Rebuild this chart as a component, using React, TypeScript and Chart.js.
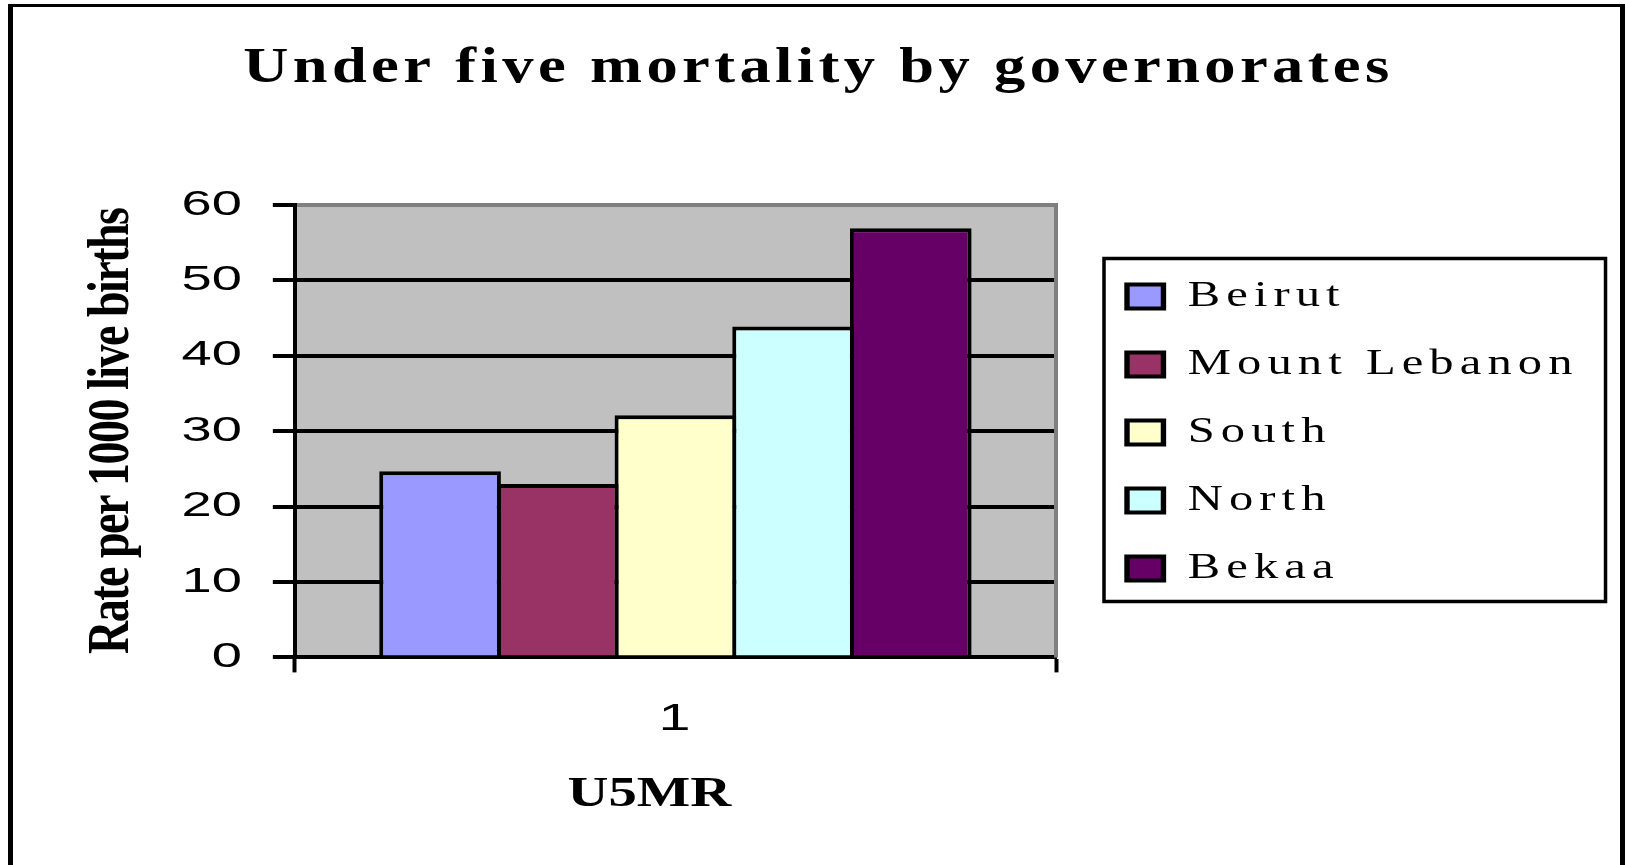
import React, { useEffect, useRef } from 'react';
import { Chart, registerables } from 'chart.js';

Chart.register(...registerables);

// ---- data ----
const categories = ['1'];
const seriesNames = ['Beirut', 'Mount Lebanon', 'South', 'North', 'Bekaa'];
const seriesValues = [24.7, 23.0, 32.1, 43.9, 56.9];
const seriesColors = ['#9999FF', '#993366', '#FFFFCC', '#CCFFFF', '#660066'];
const yTickValues = [0, 10, 20, 30, 40, 50, 60];
const chartTitle = 'Under five mortality by governorates';
const yAxisTitle = 'Rate per 1000 live births';
const xAxisTitle = 'U5MR';

const SERIF = '"Liberation Serif", "Times New Roman", serif';
const SANS = '"Liberation Sans", Arial, sans-serif';

// ---- layout constants ----
const Y_TITLE_SIZE = 46;
const Y_TITLE_PAD_TOP = 23;
const Y_TICK_LEN = 22;
const Y_TICK_PAD = 31;
const LEGEND_BOX_W = 27;
const LEGEND_SX = 1.35;
const LEGEND_GAP = 71;
const LEGEND_SPACING = '4.5px';

// wrap a Chart.js element method with a horizontal stretch and letter spacing
function wrap(obj: any, method: string, getOrigin: (o: any) => [number, number], sx: number, spacing: string) {
  if (!obj || typeof obj[method] !== 'function') return;
  const orig = obj[method];
  obj[method] = function (...args: any[]) {
    const ctx = this.ctx;
    const [from, to] = getOrigin(this);
    ctx.save();
    ctx.letterSpacing = spacing;
    ctx.translate(to, 0);
    ctx.scale(sx, 1);
    ctx.translate(-from, 0);
    try {
      return orig.apply(this, args);
    } finally {
      ctx.restore();
    }
  };
}

const framePlugin = {
  id: 'frame',
  beforeDraw(chart: any) {
    const { ctx, chartArea: a } = chart;
    ctx.save();
    ctx.fillStyle = '#ffffff';
    ctx.fillRect(0, 0, chart.width, chart.height);
    ctx.fillStyle = '#000000';
    ctx.fillRect(8, 4, 5, chart.height);
    ctx.fillRect(8, 4, 1617, 3);
    ctx.fillRect(1620, 4, 5, chart.height);
    ctx.fillStyle = '#C0C0C0';
    ctx.fillRect(a.left, a.top, a.right - a.left, a.bottom - a.top);
    ctx.restore();
  },
  beforeDatasetsDraw(chart: any) {
    const { ctx, chartArea: a } = chart;
    ctx.save();
    ctx.strokeStyle = '#808080';
    ctx.lineWidth = 4;
    ctx.beginPath();
    ctx.moveTo(a.right, a.top - 2);
    ctx.lineTo(a.right, a.bottom);
    ctx.stroke();
    ctx.restore();
  },
  afterDraw(chart: any) {
    const lg = chart.legend;
    const hb = lg && lg.legendHitBoxes;
    if (!hb || !hb.length) return;
    const { ctx } = chart;
    const first = hb[0];
    const last = hb[hb.length - 1];
    const x0 = chart.chartArea.right + LEGEND_GAP;
    const maxW = Math.max(...hb.map((h: any) => h.width));
    const l = x0 - 23;
    const t = first.top - 20;
    const r = x0 + maxW * LEGEND_SX + 27;
    const b = last.top + last.height + 15;
    ctx.save();
    ctx.strokeStyle = '#000000';
    ctx.lineWidth = 3.5;
    ctx.strokeRect(l, t, r - l, b - t);
    ctx.restore();
  },
};

export default function App() {
  const canvasRef = useRef<HTMLCanvasElement | null>(null);

  useEffect(() => {
    if (!canvasRef.current) return;
    const chart: any = new Chart(canvasRef.current, {
      type: 'bar',
      data: {
        labels: categories,
        datasets: seriesNames.map((name, i) => ({
          label: name,
          data: [seriesValues[i]],
          backgroundColor: seriesColors[i],
          borderColor: '#000000',
          borderWidth: 4,
          categoryPercentage: 0.773,
          barPercentage: 1.034,
        })),
      },
      options: {
        responsive: false,
        animation: false,
        events: [],
        devicePixelRatio: 1,
        layout: { padding: { left: 62, right: 51, top: 0, bottom: 0 } },
        plugins: {
          tooltip: { enabled: false },
          title: {
            display: true,
            text: chartTitle,
            color: '#000000',
            font: { family: SERIF, size: 50, weight: 'bold' },
            padding: { top: 39, bottom: 106 },
          },
          legend: {
            position: 'right',
            align: 'center',
            maxWidth: 300,
            labels: {
              boxWidth: LEGEND_BOX_W,
              boxHeight: 24,
              padding: 32,
              color: '#000000',
              font: { family: SERIF, size: 36 },
            },
          },
        },
        scales: {
          x: {
            type: 'category',
            offset: true,
            grid: {
              display: true,
              offset: true,
              drawOnChartArea: false,
              drawTicks: true,
              tickLength: 15,
              tickWidth: 4,
              tickColor: '#000000',
            },
            border: { display: true, color: '#000000', width: 4 },
            ticks: {
              color: '#000000',
              font: { family: SANS, size: 36 },
              padding: 26,
            },
            title: {
              display: true,
              text: xAxisTitle,
              color: '#000000',
              font: { family: SERIF, size: 42, weight: 'bold' },
              padding: { top: 2, bottom: 45 },
            },
          },
          y: {
            type: 'linear',
            min: 0,
            max: 60,
            afterBuildTicks: (s: any) => {
              s.ticks = yTickValues.map((v) => ({ value: v }));
            },
            grid: {
              color: (c: any) => (c.tick && c.tick.value === 60 ? '#808080' : '#000000'),
              lineWidth: 4,
              drawTicks: true,
              tickLength: Y_TICK_LEN,
              tickWidth: 4,
              tickColor: '#000000',
            },
            border: { display: true, color: '#000000', width: 4 },
            ticks: {
              color: '#000000',
              font: { family: SANS, size: 35 },
              padding: Y_TICK_PAD,
            },
            title: {
              display: true,
              text: yAxisTitle,
              color: '#000000',
              font: { family: SERIF, size: Y_TITLE_SIZE, weight: 'bold' },
              padding: { top: Y_TITLE_PAD_TOP, bottom: 31.7 },
            },
          },
          y2: {
            type: 'linear',
            position: 'right',
            display: true,
            grid: { display: false, drawTicks: false },
            border: { display: false },
            ticks: { display: false },
            afterFit: (s: any) => {
              s.width = 219;
            },
          },
        },
      } as any,
      plugins: [framePlugin],
    });

    // title: stretched, centred on the box
    wrap(chart.titleBlock, 'draw', (o) => {
      const c = (o.left + o.right) / 2;
      return [c, c];
    }, 1.25, '3.5px');

    // legend: stretched from first item, drawn without the legend's own clip
    const lg = chart.legend;
    if (lg) {
      lg.draw = function () {
        if (!this.options.display) return;
        const ctx = this.ctx;
        const hb = this.legendHitBoxes;
        const from = hb && hb.length ? hb[0].left : this.left;
        const to = chart.chartArea.right + LEGEND_GAP;
        ctx.save();
        ctx.letterSpacing = LEGEND_SPACING;
        ctx.translate(to, 0);
        ctx.scale(LEGEND_SX, 1);
        ctx.translate(-from, 0);
        this._draw();
        ctx.restore();
      };
      wrap(lg, 'fit', () => [0, 0], 1, LEGEND_SPACING);
    }

    // y tick labels stretched from their right edge
    wrap(chart.scales.y, 'drawLabels', (o) => {
      const ax = o.right - Y_TICK_LEN - Y_TICK_PAD;
      return [ax, ax];
    }, 1.55, '0px');
    // y title stretched across its line
    wrap(chart.scales.y, 'drawTitle', (o) => {
      const tx = o.left + Y_TITLE_PAD_TOP + (Y_TITLE_SIZE * 1.2) / 2;
      return [tx, tx];
    }, 1.3, '-1.5px');
    // x tick labels stretched around centre
    wrap(chart.scales.x, 'drawLabels', (o) => {
      const c = (o.left + o.right) / 2;
      return [c, c - 1];
    }, 1.6, '0px');
    // x title
    wrap(chart.scales.x, 'drawTitle', (o) => {
      const c = (o.left + o.right) / 2;
      return [c, c - 26];
    }, 1.35, '0px');
    chart.update();

    return () => {
      chart.destroy();
    };
  }, []);

  return (
    <div style={{ position: 'absolute', left: 0, top: 0, width: 1626, height: 865, background: '#fff' }}>
      <canvas ref={canvasRef} width={1626} height={865} style={{ width: 1626, height: 865, display: 'block' }} />
    </div>
  );
}
